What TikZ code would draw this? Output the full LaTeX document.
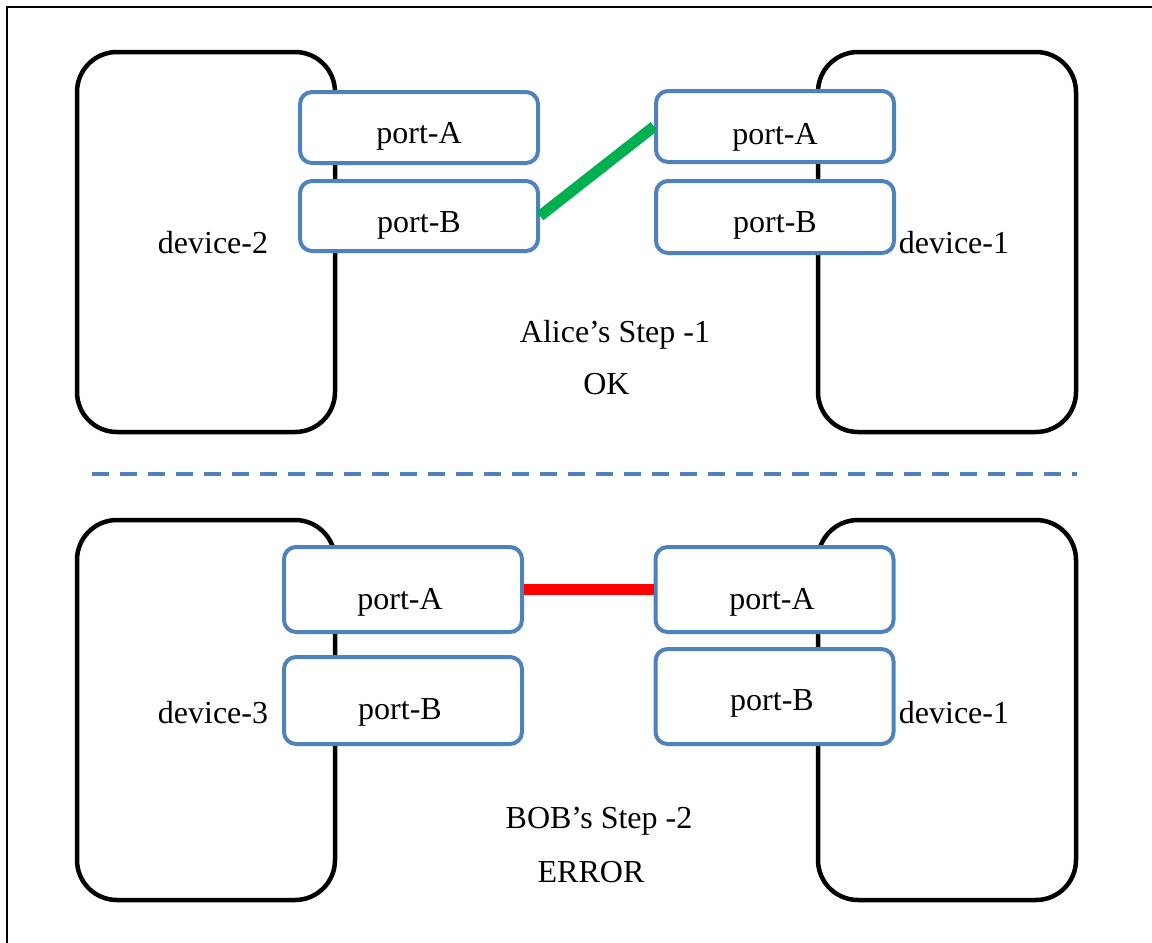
\documentclass[tikz,border=0pt]{standalone}
\usepackage{fontspec}
\setmainfont{Liberation Serif}
\definecolor{portblue}{HTML}{4F81BD}
\definecolor{linkgreen}{HTML}{00B050}
\definecolor{linkred}{HTML}{FF0000}
\begin{document}
\begin{tikzpicture}[x=0.5pt,y=-0.5pt,
  font=\fontsize{16pt}{19pt}\selectfont,
  device/.style={draw=black,line width=2.25pt,rounded corners=20pt,
    rectangle,inner sep=0pt,minimum width=129pt,minimum height=190pt},
  port/.style={draw=portblue,fill=white,line width=2pt,rounded corners=6pt,
    rectangle,inner sep=0pt,minimum width=119pt},
  txt/.style={anchor=base,inner sep=0pt},
  link/.style={line width=5.5pt},
  divider/.style={draw=portblue,line width=2pt,dash pattern=on 8.25pt off 5.75pt}]
\useasboundingbox (0,0) rectangle (1152,943);
% outer frame (only its top and left sides fall inside the page)
\draw[line width=1pt] (7,960) -- (7,7) -- (1170,7);

% devices
\node[device] (dev2)  at (206,242) {};
\node[device] (dev1a) at (947,242) {};
\node[device] (dev3)  at (206,710) {};
\node[device] (dev1b) at (947,710) {};

% ports, upper scene
\node[port,minimum height=35.5pt] (tlA) at (419,127.5) {};
\node[port,minimum height=35pt]   (tlB) at (419,216) {};
\node[port,minimum height=35.5pt] (trA) at (775,126.5) {};
\node[port,minimum height=36pt]   (trB) at (775,217) {};
% ports, lower scene
\node[port,minimum height=42.5pt] (blA) at (403,589.5) {};
\node[port,minimum height=43.5pt] (blB) at (403,700.5) {};
\node[port,minimum height=42.5pt] (brA) at (774.5,589.5) {};
\node[port,minimum height=47.5pt] (brB) at (774.5,696.5) {};

% port labels
\node[txt] (tlAt) at (419,143) {port-A};
\node[txt] (tlBt) at (419,232) {port-B};
\node[txt] (trAt) at (775,144) {port-A};
\node[txt] (trBt) at (775,232) {port-B};
\node[txt] (blAt) at (400,609) {port-A};
\node[txt] (blBt) at (400,719) {port-B};
\node[txt] (brAt) at (772,609) {port-A};
\node[txt] (brBt) at (772,710) {port-B};

% device labels
\node[txt] (dev2t)  at (213,253) {device-2};
\node[txt] (dev1at) at (954,253) {device-1};
\node[txt] (dev3t)  at (213,723) {device-3};
\node[txt] (dev1bt) at (954,723) {device-1};

% captions
\node[txt] (cap1) at (615,342) {Alice’s Step -1};
\node[txt] (res1) at (606.5,394) {OK};
\node[txt] (cap2) at (599,828) {BOB’s Step -2};
\node[txt] (res2) at (591,882) {ERROR};

% links
\draw[link,linkgreen] (tlB.east) -- (trA.west);
\draw[link,linkred] (blA.east) -- (brA.west);

% divider between the two scenes
\coordinate (divL) at (92,474);
\coordinate (divR) at (1077,474);
\draw[divider] (divL) -- (divR);
\end{tikzpicture}
\end{document}
